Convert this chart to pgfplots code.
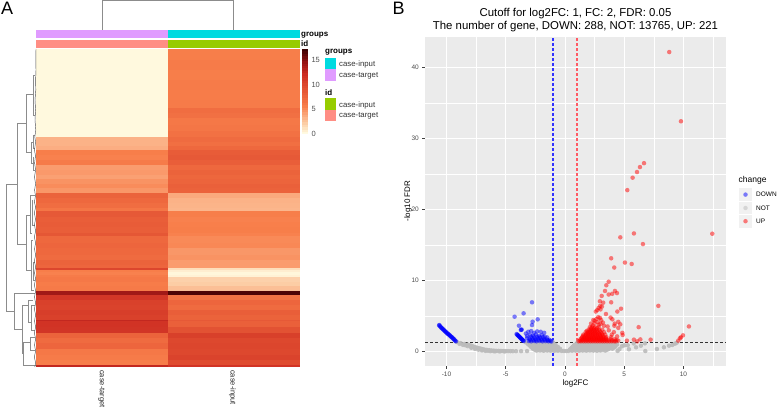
\documentclass[border=0pt]{standalone}
\usepackage{fontspec}
\setmainfont{Liberation Sans}
\usepackage{pgfplots}
\pgfplotsset{compat=1.18}

\definecolor{panel}{RGB}{235,235,235}
\definecolor{ticktext}{RGB}{77,77,77}
\definecolor{tree}{RGB}{140,140,140}
\definecolor{grpin}{RGB}{0,218,224}
\definecolor{grptg}{RGB}{224,155,255}
\definecolor{idin}{RGB}{151,204,0}
\definecolor{idtg}{RGB}{255,142,132}
\definecolor{downblue}{RGB}{0,0,255}
\definecolor{notgrey}{RGB}{187,187,187}
\definecolor{upred}{RGB}{255,0,0}
\definecolor{vblue}{RGB}{50,50,255}
\definecolor{vred}{RGB}{255,90,100}

\pgfplotsset{
  colormap={heat}{
    rgb255(0cm)=(255,249,222) rgb255(2cm)=(252,205,165) rgb255(4cm)=(250,160,115)
    rgb255(5.5cm)=(248,127,75) rgb255(7.5cm)=(236,100,60) rgb255(10cm)=(220,70,45)
    rgb255(12cm)=(205,45,35) rgb255(14.5cm)=(150,20,20) rgb255(17.3cm)=(50,0,0)},
  pts/.style={only marks, color=#1, mark=*, mark size=2.25pt,
    mark options={solid, line width=0pt, draw opacity=0, fill=#1, fill opacity=.5}},
}
\newcommand{\fs}[1]{\fontsize{#1}{#1}\selectfont}

\begin{document}
\begin{tikzpicture}[x=1pt,y=1pt]
\useasboundingbox (0,0) rectangle (777,409);

% A: heatmap, row edges in px from the top
\begin{axis}[at={(36pt,42pt)}, anchor=south west, scale only axis, width=264pt, height=318pt,
    view={0}{90}, xmin=36, xmax=300, ymin=49, ymax=367, y dir=reverse, hide axis,
    point meta min=0, point meta max=17.3, colormap name=heat]
\addplot3[surf, shader=flat corner, mesh/cols=3, point meta=z] coordinates {
(36,49,0)(168,49,5.6)(300,49,5.6)
(36,60,0)(168,60,5.8)(300,60,5.8)
(36,70,0)(168,70,5.6)(300,70,5.6)
(36,80,0)(168,80,5.8)(300,80,5.8)
(36,90,0)(168,90,5.7)(300,90,5.7)
(36,100,0)(168,100,5.8)(300,100,5.8)
(36,108,0)(168,108,6.8)(300,108,6.8)
(36,113,0)(168,113,6.6)(300,113,6.6)
(36,118,0)(168,118,6.0)(300,118,6.0)
(36,125,0)(168,125,6.2)(300,125,6.2)
(36,131,0)(168,131,6.5)(300,131,6.5)
(36,137,3.2)(168,137,7.0)(300,137,7.0)
(36,142,3.2)(168,142,6.7)(300,142,6.7)
(36,146,3.4)(168,146,7.2)(300,146,7.2)
(36,150.5,5.6)(168,150.5,8.2)(300,150.5,8.2)
(36,155,5.4)(168,155,8.4)(300,155,8.4)
(36,160,5.8)(168,160,8.0)(300,160,8.0)
(36,165,4.2)(168,165,7.2)(300,165,7.2)
(36,170,4.3)(168,170,7.6)(300,170,7.6)
(36,175,4.0)(168,175,7.3)(300,175,7.3)
(36,179,4.6)(168,179,7.5)(300,179,7.5)
(36,184,4.9)(168,184,7.8)(300,184,7.8)
(36,188,4.4)(168,188,7.7)(300,188,7.7)
(36,193,7.6)(168,193,3.6)(300,193,3.6)
(36,198,7.2)(168,198,3.2)(300,198,3.2)
(36,203,6.8)(168,203,3.1)(300,203,3.1)
(36,208,6.2)(168,208,3.0)(300,208,3.0)
(36,211,8.4)(168,211,5.6)(300,211,5.6)
(36,217,8.0)(168,217,5.4)(300,217,5.4)
(36,222,8.2)(168,222,5.5)(300,222,5.5)
(36,227,8.0)(168,227,5.6)(300,227,5.6)
(36,233,8.6)(168,233,5.4)(300,233,5.4)
(36,236,7.2)(168,236,5.0)(300,236,5.0)
(36,243,7.4)(168,243,5.1)(300,243,5.1)
(36,248,7.2)(168,248,4.4)(300,248,4.4)
(36,255,7.0)(168,255,4.6)(300,255,4.6)
(36,260,7.6)(168,260,4.2)(300,260,4.2)
(36,265,7.4)(168,265,4.2)(300,265,4.2)
(36,268,10.0)(168,268,1.2)(300,268,1.2)
(36,270,5.6)(168,270,0.5)(300,270,0.5)
(36,272,5.4)(168,272,0.1)(300,272,0.1)
(36,275,5.8)(168,275,0.3)(300,275,0.3)
(36,277,6.0)(168,277,1.8)(300,277,1.8)
(36,282,5.7)(168,282,2.0)(300,282,2.0)
(36,286,5.9)(168,286,2.6)(300,286,2.6)
(36,291,14.0)(168,291,16.5)(300,291,16.5)
(36,295,11.2)(168,295,6.4)(300,295,6.4)
(36,300,10.4)(168,300,7.4)(300,300,7.4)
(36,305,10.2)(168,305,7.0)(300,305,7.0)
(36,310,10.6)(168,310,8.0)(300,310,8.0)
(36,315,10.4)(168,315,7.6)(300,315,7.6)
(36,320,12.5)(168,320,8.4)(300,320,8.4)
(36,321,11.5)(168,321,7.8)(300,321,7.8)
(36,327,11.4)(168,327,9.0)(300,327,9.0)
(36,333,7.6)(168,333,10.5)(300,333,10.5)
(36,338,7.0)(168,338,9.8)(300,338,9.8)
(36,343,7.4)(168,343,10.0)(300,343,10.0)
(36,349,6.0)(168,349,9.8)(300,349,9.8)
(36,355,5.8)(168,355,10.2)(300,355,10.2)
(36,360,5.6)(168,360,9.6)(300,360,9.6)
(36,365,12.5)(168,365,11.5)(300,365,11.5)
(36,367,12.5)(168,367,11.5)(300,367,11.5)
};
\end{axis}

% A: colour bar
\begin{axis}[at={(302pt,275.3pt)}, anchor=south west, scale only axis, width=6pt, height=84.7pt,
    view={0}{90}, xmin=0, xmax=1, ymin=0, ymax=17.3, axis line style={draw=none},
    xtick=\empty, ytick={0,5,10,15}, yticklabel pos=right, major tick length=0pt,
    yticklabel style={font=\fs{7.5}, text=ticktext, anchor=west, xshift=0pt},
    /pgf/number format/assume math mode=true,
    point meta min=0, point meta max=17.3, colormap name=heat]
\addplot3[surf, shader=flat corner, mesh/cols=2, point meta=z] coordinates {
(0,0,0)(1,0,0) (0,.5,.5)(1,.5,.5) (0,1,1)(1,1,1) (0,1.5,1.5)(1,1.5,1.5) (0,2,2)(1,2,2)
(0,2.5,2.5)(1,2.5,2.5) (0,3,3)(1,3,3) (0,3.5,3.5)(1,3.5,3.5) (0,4,4)(1,4,4) (0,4.5,4.5)(1,4.5,4.5)
(0,5,5)(1,5,5) (0,5.5,5.5)(1,5.5,5.5) (0,6,6)(1,6,6) (0,6.5,6.5)(1,6.5,6.5) (0,7,7)(1,7,7)
(0,7.5,7.5)(1,7.5,7.5) (0,8,8)(1,8,8) (0,8.5,8.5)(1,8.5,8.5) (0,9,9)(1,9,9) (0,9.5,9.5)(1,9.5,9.5)
(0,10,10)(1,10,10) (0,10.5,10.5)(1,10.5,10.5) (0,11,11)(1,11,11) (0,11.5,11.5)(1,11.5,11.5) (0,12,12)(1,12,12)
(0,12.5,12.5)(1,12.5,12.5) (0,13,13)(1,13,13) (0,13.5,13.5)(1,13.5,13.5) (0,14,14)(1,14,14) (0,14.5,14.5)(1,14.5,14.5)
(0,15,15)(1,15,15) (0,15.5,15.5)(1,15.5,15.5) (0,16,16)(1,16,16) (0,16.5,16.5)(1,16.5,16.5) (0,17,17)(1,17,17)
(0,17.3,17.3)(1,17.3,17.3)
};
\end{axis}

% B: volcano plot
\begin{axis}[at={(425pt,43pt)}, anchor=south west, scale only axis, width=301pt, height=329pt,
    xmin=-11.81, xmax=13.59, ymin=-2.07, ymax=44.27,
    axis background/.style={fill=panel}, axis line style={draw=none},
    xtick={-10,-5,0,5,10}, ytick={0,10,20,30,40}, tick pos=left,
    minor xtick={-7.5,-2.5,2.5,7.5,12.5}, minor ytick={5,15,25,35},
    grid=both, major grid style={white, line width=.8pt}, minor grid style={white, line width=.4pt},
    tick align=outside, major tick length=2.7pt, minor tick length=0pt,
    tick style={black!75, line width=.5pt},
    xticklabel style={font=\fs{6.5}, text=ticktext},
    yticklabel style={font=\fs{6.5}, text=ticktext},
    /pgf/number format/assume math mode=true]
% NOT
\addplot[pts=notgrey, every mark/.append style={fill opacity=.9}] coordinates {
(-9.1,1.3)(-8.8,1.15)(-8.5,1.03)(-8.2,.95)(-8,.85)(-7.85,.75)(-7.7,.65)(-7.55,.57)(-7.4,.5)(-7.25,.43)(-7.1,.37)(-6.95,.3)
(-6.8,.25)(-6.6,.2)(-6.4,.15)(-6.2,.12)(-6,.09)(-5.8,.07)(-5.6,.06)(-5.4,.05)(-5.2,.04)(-5,.03)(-4.8,.03)(-4.6,.02)(-4.4,.02)
(-4.13,.02)(-3.7,.02)(-3.2,.03)(-8.4,.85)(-7.9,.6)(-7.5,.4)(-7.0,.22)(-6.5,.08)(-6,.02)
(-8.9,1.05)(-8.6,.9)(-8.2,.72)(-7.9,.5)(-7.6,.35)(-7.3,.22)(-7,.12)(-6.7,.06)(-6.3,.02)(-5.9,.0)(-5.5,-.02)(-5.1,-.02)
(-3.3,1.25)(-3,1.22)(-2.7,1.27)(-2.4,1.24)(-2.1,1.26)(-1.8,1.23)(-1.5,1.27)(-1.2,1.24)(-1,1.25)
(1.05,1.25)(1.35,1.22)(1.65,1.27)(1.95,1.24)(2.25,1.26)(2.55,1.23)(2.85,1.27)(3.15,1.24)(3.45,1.26)(3.75,1.22)(4.05,1.25)(4.35,1.24)
(-3.1,.97)(-2.8,.93)(-2.5,.96)(-2.2,.94)(-1.9,.97)(-1.6,.93)(-1.3,.95)(-1,.96)(-.8,.92)
(.85,.93)(1.1,.96)(1.4,.94)(1.7,.97)(2,.93)(2.3,.95)(2.6,.96)(2.9,.93)(3.2,.97)(3.5,.94)(3.8,.95)(4.1,.93)(4.4,.96)
(-2.9,.66)(-2.6,.63)(-2.3,.67)(-2,.64)(-1.7,.66)(-1.4,.63)(-1.1,.67)(-.85,.64)(-.6,.62)
(.65,.63)(.9,.66)(1.2,.64)(1.5,.67)(1.8,.63)(2.1,.65)(2.4,.66)(2.7,.63)(3,.67)(3.3,.64)(3.6,.66)(3.9,.63)(4.25,.65)
(-2.7,.36)(-2.4,.33)(-2.1,.37)(-1.8,.34)(-1.5,.36)(-1.2,.33)(-.9,.37)(-.65,.34)(-.42,.36)
(.42,.27)(.65,.34)(.95,.36)(1.25,.33)(1.55,.37)(1.85,.34)(2.15,.36)(2.45,.33)(2.75,.37)(3.05,.34)(3.35,.36)(3.7,.33)(4,.36)
(-2.4,.1)(-2.1,.12)(-1.8,.08)(-1.5,.11)(-1.2,.09)(-.9,.07)(-.6,.08)(-.3,.06)(-.1,.05)(.1,.04)(.3,.06)(.6,.08)
(.9,.1)(1.2,.08)(1.5,.11)(1.8,.09)(2.1,.12)(2.4,.1)(2.7,.08)(3,.12)(3.4,.1)
(-2.95,.82)(-2.65,.8)(-2.35,.82)(-2.05,.8)(-1.75,.82)(-1.45,.8)(-1.15,.82)(-.9,.8)
(-2.75,.5)(-2.45,.5)(-2.15,.52)(-1.85,.5)(-1.55,.52)(-1.25,.5)(-.95,.5)(-.7,.48)
(-2.55,.22)(-2.25,.22)(-1.95,.2)(-1.65,.22)(-1.35,.2)(-1.05,.2)(-.75,.18)(-.5,.18)
(.75,.8)(1,.8)(1.25,.82)(1.55,.8)(1.85,.82)(2.15,.8)(2.45,.8)(2.75,.82)(3.05,.8)(3.35,.82)(3.65,.8)(3.95,.8)(4.25,.82)
(.55,.48)(.8,.5)(1.05,.5)(1.35,.52)(1.65,.5)(1.95,.5)(2.25,.52)(2.55,.5)(2.85,.5)(3.15,.52)(3.45,.5)(3.8,.5)(4.1,.5)
(.5,.2)(.75,.22)(1.05,.2)(1.35,.22)(1.65,.2)(1.95,.22)(2.25,.2)(2.55,.22)(2.9,.2)(3.2,.22)(3.55,.22)
(4.44,.05)(5.4,.28)(6,.56)(6.41,.79)(6.78,.04)(7.76,.32)(8.35,.56)(8.78,.79)(9.06,.89)(9.28,1.07)(9.43,1.2)
(6.75,1.12)(5,.84)(4.6,.3)(5.3,.85)(5.8,1.1)(4.8,.7)
};
% DOWN
\addplot[pts=downblue] coordinates {
(-10.6,3.7)(-10.55,3.55)(-10.45,3.35)(-10.35,3.2)(-10.25,3.05)(-10.2,2.95)(-10.1,2.8)(-10,2.65)(-9.95,2.55)(-9.85,2.42)
(-9.75,2.3)(-9.7,2.2)(-9.6,2.05)(-9.5,1.92)(-9.45,1.82)(-9.35,1.68)(-9.3,1.55)(-9.2,1.4)
(-10.62,3.65)(-10.5,3.45)(-10.4,3.28)(-10.3,3.12)(-10.15,2.88)(-10.05,2.72)(-9.9,2.48)(-9.8,2.36)(-9.65,2.12)(-9.55,1.98)(-9.4,1.75)(-9.25,1.48)
(-2.78,6.9)(-3.49,5.35)(-4.25,4.87)(-2.3,4.5)(-2.73,4.17)(-2.78,3.7)(-3.88,3.6)(-3.69,3.04)(-3.65,3.06)(-3.72,3.0)
(-4.08,2.43)(-4,2.3)(-3.93,2.18)(-3.85,2.05)(-3.78,1.93)(-3.7,1.8)(-3.63,1.68)(-3.55,1.55)(-3.48,1.45)
(-4.04,2.36)(-3.96,2.24)(-3.89,2.12)(-3.81,1.99)(-3.74,1.87)(-3.66,1.74)(-3.59,1.62)(-3.52,1.5)
(-3.3,2.5)(-3.1,2.75)(-2.85,2.85)(-2.6,2.6)(-2.35,2.8)(-2.05,2.75)(-1.75,2.6)(-3.2,2.15)(-2.95,2.3)(-2.7,2.2)(-2.45,2.35)(-2.2,2.15)(-1.95,2.25)(-1.7,2.05)(-1.5,1.95)
(-3.2,1.85)(-3,1.75)(-2.75,1.85)(-2.5,1.75)(-2.25,1.85)(-2,1.7)(-1.75,1.75)(-1.5,1.65)(-1.3,1.6)
(-3.05,1.45)(-2.85,1.4)(-2.6,1.45)(-2.4,1.4)(-2.15,1.45)(-1.9,1.4)(-1.65,1.42)(-1.4,1.4)(-1.15,1.38)
(-2.95,1.6)(-2.7,1.6)(-2.45,1.58)(-2.2,1.62)(-1.95,1.55)(-1.7,1.58)(-1.45,1.52)(-1.22,1.48)
(-2.85,2.05)(-2.6,1.98)(-2.35,2.05)(-2.1,1.95)(-1.85,2)
};
% UP
\addplot[pts=upred] coordinates {
(8.8,42.15)(9.79,32.4)(6.67,26.5)(6.33,25.95)(6.08,25.25)(5.71,24.45)(5.26,22.7)(12.43,16.56)(5.82,16.6)(4.67,16.05)(6.58,15.1)
(5.06,12.5)(5.63,12.3)(3.9,13.1)(4.16,11.8)(3.69,9.8)(3.49,9.3)(3.38,8.5)(3.69,8)(3.99,8.1)(4.22,8.5)(4.39,8.2)(3.1,7.8)(2.95,7.05)(3.23,6.85)(3.9,6.9)
(7.88,6.4)(4.73,6)(4.42,5.6)(3.46,5.25)(2.98,6.4)(2.84,6.1)(2.6,5.6)(2.72,5.8)(3.0,5.9)(3.12,6.3)
(6.22,3.4)(10.46,3.5)(9.96,2.25)(9.79,1.97)(9.7,1.83)(9.56,1.5)(7.23,1.64)(6.36,1.68)(5.82,1.64)(6.1,1.4)(5.23,1.5)(4.84,2.6)(4.87,2.3)
(2.39,4.4)(2.5,4.3)(2.81,4.8)(2.95,4.7)(2.5,3.95)(3.2,4.05)(3.85,4.75)(4,4.5)(4.2,3.9)(4.5,4.15)(4.67,3.8)(4.5,3.3)(4.17,3.6)(4.13,2.7)(4.4,2.1)(4.5,1.5)(3.7,2.95)(3.95,2.35)(3.6,3.5)
(2.2,3.9)(2.35,3.65)(2.75,4.1)(3,3.85)(3.3,3.6)(2.65,4.55)(3.05,4.4)(2.85,3.75)
(1.15,1.4)(1.35,1.4)(1.55,1.4)(1.75,1.4)(1.95,1.4)(2.15,1.4)(2.35,1.4)(2.55,1.4)(2.75,1.4)(2.95,1.4)(3.15,1.4)(3.35,1.4)(3.55,1.4)(3.75,1.4)(3.95,1.4)(4.15,1.4)(4.3,1.4)
(1.3,1.7)(1.5,1.7)(1.7,1.7)(1.9,1.7)(2.1,1.7)(2.3,1.7)(2.5,1.7)(2.7,1.7)(2.9,1.7)(3.1,1.7)(3.3,1.7)(3.5,1.7)(3.85,1.7)(4.2,1.7)(4.35,1.6)
(1.45,2)(1.65,2)(1.85,2)(2.05,2)(2.25,2)(2.45,2)(2.65,2)(2.85,2)(3.05,2)(3.25,2)(3.5,2)(3.9,2)
(1.55,2.35)(1.75,2.35)(1.95,2.35)(2.15,2.35)(2.35,2.35)(2.55,2.35)(2.75,2.35)(2.95,2.35)(3.15,2.35)(3.4,2.35)
(1.75,2.7)(1.95,2.7)(2.15,2.7)(2.35,2.7)(2.55,2.7)(2.75,2.7)(3,2.7)(3.3,2.7)
(2,3.05)(2.2,3.05)(2.4,3.05)(2.6,3.05)(2.85,3.05)(3.15,3.05)(2.1,3.4)(2.3,3.4)(2.55,3.4)(2.85,3.4)
(1.25,1.5)(1.45,1.55)(1.65,1.55)(1.85,1.55)(2.05,1.55)(2.25,1.55)(2.45,1.55)(2.65,1.55)(2.85,1.55)(3.05,1.55)(3.25,1.55)(3.45,1.55)(3.7,1.55)(4,1.55)
(1.4,1.85)(1.6,1.85)(1.8,1.85)(2,1.85)(2.2,1.85)(2.4,1.85)(2.6,1.85)(2.8,1.85)(3,1.85)(3.2,1.85)(3.45,1.85)
(1.55,2.18)(1.75,2.18)(1.95,2.18)(2.15,2.18)(2.35,2.18)(2.55,2.18)(2.75,2.18)(2.95,2.18)(3.2,2.18)
(1.85,2.52)(2.05,2.52)(2.25,2.52)(2.45,2.52)(2.65,2.52)(2.85,2.52)(3.1,2.52)
(1.85,2.88)(2.1,2.88)(2.3,2.88)(2.5,2.88)(2.7,2.88)(2.95,2.88)(2.2,3.25)(2.45,3.25)(2.7,3.25)
};
\addplot[color=vblue, line width=1.5pt, dash pattern=on 3pt off 2pt] coordinates {(-1,-2.07)(-1,44.27)};
\addplot[color=vred, line width=1.5pt, dash pattern=on 3pt off 2pt] coordinates {(1,-2.07)(1,44.27)};
\addplot[color=black!80, line width=1.1pt, dash pattern=on 3pt off 2pt] coordinates {(-11.81,1.3)(13.59,1.3)};
\end{axis}

% everything else, in px of the page
\begin{axis}[at={(0,0)}, anchor=south west, scale only axis, width=777pt, height=409pt,
    xmin=0, xmax=777, ymin=0, ymax=409, y dir=reverse, hide axis, clip=false]
% annotation bars
\addplot[fill=grptg, draw=none] coordinates {(36,30.5)(168,30.5)(168,38.5)(36,38.5)} --cycle;
\addplot[fill=grpin, draw=none] coordinates {(168,30.5)(300,30.5)(300,38.5)(168,38.5)} --cycle;
\addplot[fill=idtg, draw=none] coordinates {(36,40)(168,40)(168,48)(36,48)} --cycle;
\addplot[fill=idin, draw=none] coordinates {(168,40)(300,40)(300,48)(168,48)} --cycle;
% legend swatches
\addplot[fill=grpin, draw=none] coordinates {(325,58)(336,58)(336,69.5)(325,69.5)} --cycle;
\addplot[fill=grptg, draw=none] coordinates {(325,69.5)(336,69.5)(336,81)(325,81)} --cycle;
\addplot[fill=idin, draw=none] coordinates {(325,98.5)(336,98.5)(336,110)(325,110)} --cycle;
\addplot[fill=idtg, draw=none] coordinates {(325,110)(336,110)(336,121.5)(325,121.5)} --cycle;
% top tree
\addplot[color=tree, line width=.8pt] coordinates {(102,30)(102,.5)(233.5,.5)(233.5,30)};
% left tree
\addplot[color=tree, line width=.6pt, unbounded coords=jump] coordinates {
(17.5,184)(6.5,184)(6.5,311)(14.5,311) (nan,nan)
(26.5,123)(17.5,123)(17.5,244)(26.5,244) (nan,nan)
(33,94.5)(26.5,94.5)(26.5,152.7)(31,152.7) (nan,nan)
(35,75)(33,75)(33,115)(35,115) (nan,nan)
(33,142)(31,142)(31,163)(33,163) (nan,nan)
(35,135)(33,135)(33,148)(35,148) (nan,nan)
(33,157)(33,170)(35,170) (nan,nan)
(30,215)(26.5,215)(26.5,270)(31,270) (nan,nan)
(35,195)(30,195)(30,233)(32,233) (nan,nan)
(32,200)(32,225)(35,225) (nan,nan)
(33,240)(31,240)(31,290)(34,290) (nan,nan)
(35,262)(33,262)(33,280)(35,280) (nan,nan)
(35,293)(14.5,293)(14.5,329)(22.7,329) (nan,nan)
(28,305)(22.7,305)(22.7,353)(23,353) (nan,nan)
(36,365)(23,365)(23,342)(30,342) (nan,nan)
(33,300)(28,300)(28,322)(31,322) (nan,nan)
(35,305)(31,305)(31,330)(35,330) (nan,nan)
(35,337)(30,337)(30,350)(35,350)
};
\addplot[color=black!70, line width=.45pt] coordinates {
(36,49)(35.8,60)(36,70)(35.6,80)(35.8,90)(35,100)(35.6,110)(35,120)(35.8,130)(34.8,137)(35.6,142)(34.5,150)(35.5,156)(34.6,163)(35.6,170)(34.5,177)(35.6,184)(34.6,190)(35.5,196)
(34.4,202)(35.6,207)(34.4,213)(35.5,219)(34.5,225)(35.6,231)(34.4,237)(35.6,243)(34.5,249)(35.6,255)(34.4,261)(35.6,267)(34.5,273)(35.6,279)(34.4,285)(35.6,291)
(34.5,297)(35.6,303)(34.4,309)(35.6,315)(34.5,321)(35.6,327)(34.4,333)(35.6,339)(34.5,345)(35.6,351)(34.4,357)(35.6,363)(34.8,367)
};
% volcano legend
\addplot[fill=panel!70!white, draw=none] coordinates {(739,188)(752.3,188)(752.3,228)(739,228)} --cycle;
\addplot[color=white, line width=.5pt] coordinates {(739,201.3)(752.3,201.3)};
\addplot[color=white, line width=.5pt] coordinates {(739,214.6)(752.3,214.6)};
\addplot[pts=downblue] coordinates {(745.5,194.6)};
\addplot[pts=notgrey] coordinates {(745.5,208)};
\addplot[pts=upred] coordinates {(745.5,221.2)};

\node[font=\fs{18}, anchor=base west, inner sep=0] at (axis cs:1,15) {A};
\node[font=\fs{18}, anchor=base west, inner sep=0] at (axis cs:392.5,15) {B};
\node[font=\bfseries\fs{8}, anchor=west, inner sep=0] at (axis cs:301,35) {groups};
\node[font=\bfseries\fs{8}, anchor=west, inner sep=0] at (axis cs:301,44) {id};
\node[font=\bfseries\fs{8}, anchor=west, inner sep=0] at (axis cs:325,52.5) {groups};
\node[font=\bfseries\fs{8}, anchor=west, inner sep=0] at (axis cs:325,93) {id};
\node[font=\fs{7.8}, text=black!80, anchor=west, inner sep=0] at (axis cs:339,64) {case-input};
\node[font=\fs{7.8}, text=black!80, anchor=west, inner sep=0] at (axis cs:339,76) {case-target};
\node[font=\fs{7.8}, text=black!80, anchor=west, inner sep=0] at (axis cs:339,105) {case-input};
\node[font=\fs{7.8}, text=black!80, anchor=west, inner sep=0] at (axis cs:339,116) {case-target};
\node[font=\fs{7.5}, text=black!85, rotate=-90, anchor=west, inner sep=0] at (axis cs:101.5,370) {case-target};
\node[font=\fs{7.5}, text=black!85, rotate=-90, anchor=west, inner sep=0] at (axis cs:232.5,370) {case-input};
\node[font=\fs{11.4}, anchor=center, inner sep=0] at (axis cs:575.5,14) {Cutoff for log2FC: 1, FC: 2, FDR: 0.05};
\node[font=\fs{11.4}, anchor=center, inner sep=0] at (axis cs:575.5,27) {The number of gene, DOWN: 288, NOT: 13765, UP: 221};
\node[font=\fs{8}, anchor=center, inner sep=0] at (axis cs:575.5,383) {log2FC};
\node[font=\fs{8}, rotate=90, anchor=center, inner sep=0] at (axis cs:408,201) {-log10 FDR};
\node[font=\fs{8.5}, anchor=west, inner sep=0] at (axis cs:738.5,180) {change};
\node[font=\fs{6.5}, anchor=west, inner sep=0] at (axis cs:756,194.6) {DOWN};
\node[font=\fs{6.5}, anchor=west, inner sep=0] at (axis cs:756,208) {NOT};
\node[font=\fs{6.5}, anchor=west, inner sep=0] at (axis cs:756,221.2) {UP};
\end{axis}
\end{tikzpicture}
\end{document}
